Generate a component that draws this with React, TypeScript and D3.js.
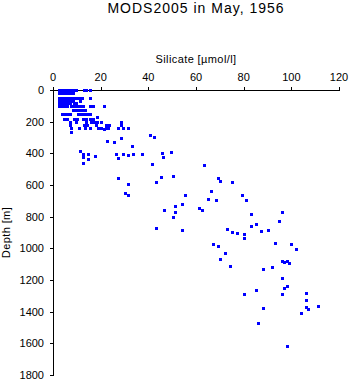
import React from "react";
import * as d3 from "d3";

const title = "MODS2005 in May, 1956";
const xLabel = "Silicate [\u00b5mol/l]";
const yLabel = "Depth [m]";
const xTicks = [0, 20, 40, 60, 80, 100, 120];
const yTicks = [0, 200, 400, 600, 800, 1000, 1200, 1400, 1600, 1800];

// silicate [umol/l]
const silicate = [
  // 0 m
  2.4, 3.6, 4.8, 6.0, 7.2, 8.4, 9.7, 13.0, 13.8, 15.5,
  // 20 m
  2.4, 3.6, 4.8, 6.0, 7.2, 8.4,
  // 50 m
  2.4, 3.6, 4.8, 6.0, 7.2, 8.4, 9.7, 10.9, 12.2, 15.5,
  // 70 m
  2.4, 3.6, 4.8, 6.0, 7.2, 8.4, 11.3,
  // 82 m
  2.4, 3.6, 4.8, 6.0, 7.2, 8.8, 9.7,
  // 101 m
  2.4, 3.6, 4.8, 6.0, 7.6, 8.8, 10.1, 11.3, 12.6, 15.5, 16.8, 21.4,
  // 126 m
  8.4, 9.7, 10.9, 12.2, 13.4,
  // 152 m
  3.6, 4.8, 6.0, 7.2, 10.5, 11.7, 13.0, 14.3, 15.5,
  18.5,
  // 183 m
  4.6, 5.9, 8.8, 10.1, 12.6, 13.8, 15.5, 16.8,
  // 202 m
  7.1, 9.7, 13.8, 15.9, 17.2, 18.5, 20.1, 28.5,
  // 221 m
  7.1, 13.0, 14.3, 18.0, 22.2, 28.5, 23.5,
  // 240 m
  7.6, 10.9, 13.4, 15.5, 18.9, 20.1, 23.1, 22.2, 29.4, 27.3, 31.5,
  21.4, 7.6, 40.7, 42.4, 28.5, 22.7, 25.6, 33.1,
  // ~400 m
  11.3, 12.6, 14.7, 17.6, 12.6, 14.7, 12.6, 26.4, 27.3, 29.4, 31.5, 33.6, 37.3,
  45.7, 46.2, 49.5, 41.5,
  // 450-700 m
  63.4, 27.3, 31.5, 43.2, 30.2, 31.5, 45.3, 50.4, 69.2, 70.1, 75.1, 55.4,
  54.1, 51.2, 51.2, 46.6, 50.4, 66.3, 65.0, 68.4, 61.3, 62.5,
  43.2, 54.1, 73.0, 67.1, 69.2, 79.3, 81.0,
  // 780-1000 m
  83.1, 96.1, 94.8, 85.2, 83.1, 87.3, 90.2, 75.1, 77.2, 80.1, 80.1,
  72.2, 70.1, 74.3, 88.1, 91.9, 93.1, 99.9, 102.0,
  // 1080-1620 m
  96.1, 96.9, 98.2, 99.0, 96.1, 98.2, 96.9, 106.2, 106.2, 85.2, 96.1, 80.1,
  106.2, 107.0, 111.2, 104.1, 88.1, 86.0, 98.2,
];

// depth [m]
const depth = [
  0, 0, 0, 0, 0, 0, 0, 0, 0, 0,
  20, 20, 20, 20, 20, 20,
  50, 50, 50, 50, 50, 50, 50, 50, 50, 50,
  70, 70, 70, 70, 70, 70, 70,
  82, 82, 82, 82, 82, 82, 82,
  101, 101, 101, 101, 101, 101, 101, 101, 101, 101, 101, 101,
  126, 126, 126, 126, 126,
  152, 152, 152, 152, 152, 152, 152, 152, 152,
  171,
  183, 183, 183, 183, 183, 183, 183, 183,
  202, 202, 202, 202, 202, 202, 202, 202,
  221, 221, 221, 221, 221, 221, 221,
  240, 240, 240, 240, 240, 240, 240, 240, 240, 240, 240,
  246, 265, 284, 297, 303, 322, 328, 354,
  385, 404, 404, 417, 423, 436, 461, 404, 429, 404, 411, 404, 404,
  398, 423, 392, 467,
  474, 556, 594, 581, 651, 663, 549, 543, 556, 575, 581, 663,
  720, 733, 771, 758, 802, 638, 688, 695, 745, 758,
  872, 884, 878, 973, 985, 663, 695,
  783, 771, 827, 846, 859, 891, 884, 897, 903, 909, 935,
  1029, 1067, 1112, 1131, 1118, 966, 973, 1004,
  1080, 1086, 1080, 1093, 1187, 1238, 1251, 1282, 1326, 1263, 1288, 1288,
  1371, 1383, 1364, 1408, 1377, 1472, 1617,
];

const W = 351;
const H = 384;

export default function App() {
  const x = d3.scaleLinear().domain([0, 120]).range([53, 339]);
  const y = d3.scaleLinear().domain([0, 1800]).range([90, 375]);
  const font = "'Liberation Sans', Arial, Helvetica, sans-serif";
  const points = silicate.map((s, i) => ({ s, d: depth[i] }));
  const ax = Math.round(x(0)) + 0.5;
  const ay = Math.round(y(0)) + 0.5;

  return (
    <svg
      width={W}
      height={H}
      style={{ position: "absolute", left: 0, top: 0, background: "#fff" }}
      fontFamily={font}
    >
      <rect x={0} y={0} width={W} height={H} fill="#fff" />
      <text x={196} y={13} fontSize={14} letterSpacing={1} textAnchor="middle" fill="#000">
        {title}
      </text>
      <text x={196} y={63} fontSize={11} letterSpacing={0.4} textAnchor="middle" fill="#000">
        {xLabel}
      </text>
      <text
        transform={`translate(10,${(y(0) + y(1800)) / 2}) rotate(-90)`}
        fontSize={11}
        letterSpacing={0.4}
        textAnchor="middle"
        fill="#000"
      >
        {yLabel}
      </text>

      <g shapeRendering="crispEdges" stroke="#000">
        <line x1={ax} x2={Math.round(x(120)) + 0.5} y1={ay} y2={ay} />
        {xTicks.map((t) => (
          <line key={t} x1={Math.round(x(t)) + 0.5} x2={Math.round(x(t)) + 0.5} y1={ay} y2={ay - 4} />
        ))}
        <line x1={ax} x2={ax} y1={ay} y2={Math.round(y(1800)) + 0.5} />
        {yTicks.map((t) => (
          <line key={t} x1={ax - 4} x2={ax} y1={Math.round(y(t)) + 0.5} y2={Math.round(y(t)) + 0.5} />
        ))}
      </g>
      {xTicks.map((t) => (
        <text key={t} x={x(t)} y={81} fontSize={11} textAnchor="middle" fill="#000">
          {t}
        </text>
      ))}
      {yTicks.map((t) => (
        <text key={t} x={44} y={y(t)} dy="0.36em" fontSize={11} textAnchor="end" fill="#000">
          {t}
        </text>
      ))}

      <g fill="#0000ff" shapeRendering="crispEdges">
        {points.map((p, i) => (
          <rect key={i} x={Math.round(x(p.s)) - 1} y={Math.round(y(p.d)) - 1} width={3} height={3} />
        ))}
      </g>
    </svg>
  );
}
